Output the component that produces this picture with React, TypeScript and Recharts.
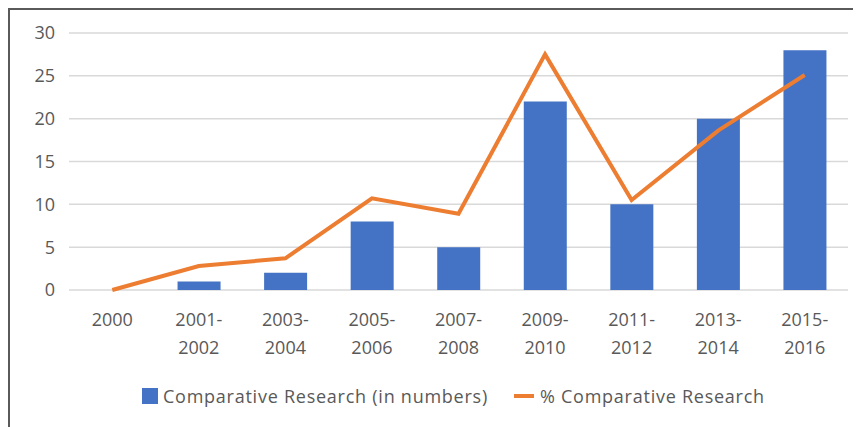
import { Bar, CartesianGrid, ComposedChart, Legend, Line, XAxis, YAxis } from "recharts";

const periods = [
  "2000",
  "2001-2002",
  "2003-2004",
  "2005-2006",
  "2007-2008",
  "2009-2010",
  "2011-2012",
  "2013-2014",
  "2015-2016",
];
const researchCounts = [0, 1, 2, 8, 5, 22, 10, 20, 28];
const researchPercent = [0, 2.8, 3.7, 10.7, 8.9, 27.5, 10.5, 18.6, 25.1];
const yTicks = [0, 5, 10, 15, 20, 25, 30];

const BAR_COLOR = "#4472C4";
const LINE_COLOR = "#ED7D31";
const TEXT_COLOR = "#595959";
const FONT = "'Open Sans', sans-serif";

const data = periods.map((period, i) => ({
  period,
  count: researchCounts[i],
  percent: researchPercent[i],
}));

function PeriodTick(props: any) {
  const { x, y, payload } = props;
  const label: string = payload.value;
  const parts = label.includes("-") ? [label.split("-")[0] + "-", label.split("-")[1]] : [label];
  return (
    <text x={x} y={y} textAnchor="middle" fill={TEXT_COLOR} fontSize={18} fontFamily={FONT}>
      {parts.map((p, i) => (
        <tspan key={i} x={x} dy={i === 0 ? 34 : 28}>
          {p}
        </tspan>
      ))}
    </text>
  );
}

function ChartLegend() {
  const textStyle = { color: TEXT_COLOR, fontSize: 18, fontFamily: FONT, letterSpacing: 0.75 };
  return (
    <div style={{ height: 42, display: "flex", alignItems: "center", paddingLeft: 132 }}>
      <span style={{ width: 16, height: 16, background: BAR_COLOR, display: "inline-block", marginRight: 5 }} />
      <span style={textStyle}>Comparative Research (in numbers)</span>
      <span style={{ width: 20, height: 4, background: LINE_COLOR, display: "inline-block", marginLeft: 26, marginRight: 6 }} />
      <span style={textStyle}>% Comparative Research</span>
    </div>
  );
}

export default function App() {
  return (
    <div
      style={{
        width: 851,
        height: 417,
        borderTop: "2px solid #5a5a5a",
        borderLeft: "2px solid #5a5a5a",
        background: "#fff",
      }}
    >
      <ComposedChart width={851} height={417} data={data} margin={{ top: 23, right: 13, bottom: 10, left: 0 }}>
        <CartesianGrid vertical={false} stroke="#d9d9d9" strokeWidth={1.5} />
        <XAxis
          dataKey="period"
          axisLine={false}
          tickLine={false}
          tickSize={0}
          height={85}
          interval={0}
          tick={<PeriodTick />}
        />
        <YAxis
          domain={[0, 30]}
          ticks={yTicks}
          axisLine={false}
          tickLine={false}
          tickSize={0}
          tickMargin={14}
          width={59}
          tick={{ fill: TEXT_COLOR, fontSize: 18, fontFamily: FONT }}
        />
        <Legend verticalAlign="bottom" content={() => <ChartLegend />} />
        <Bar dataKey="count" fill={BAR_COLOR} barSize={43} isAnimationActive={false} />
        <Line
          dataKey="percent"
          type="linear"
          stroke={LINE_COLOR}
          strokeWidth={4}
          dot={false}
          isAnimationActive={false}
        />
      </ComposedChart>
    </div>
  );
}
